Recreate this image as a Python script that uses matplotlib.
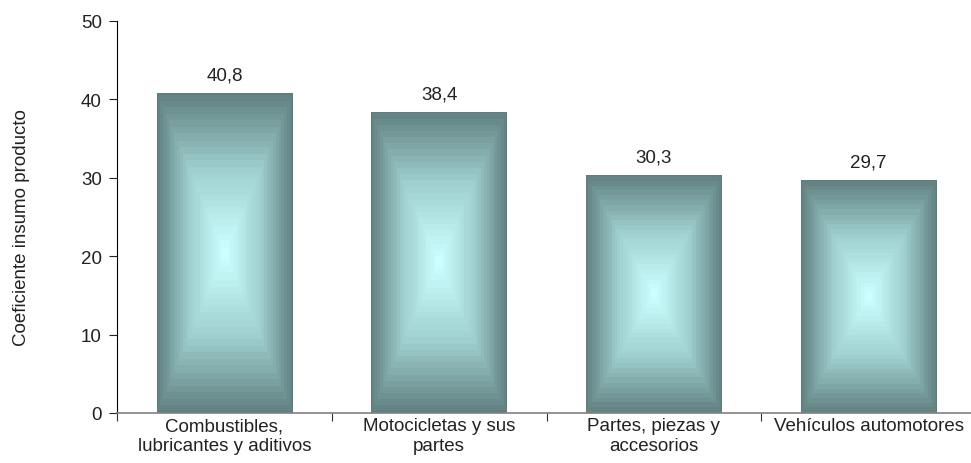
import numpy as np
import matplotlib
matplotlib.use("Agg")
import matplotlib.pyplot as plt
from matplotlib.colors import LinearSegmentedColormap

# datos
categorias = ["Combustibles,\nlubricantes y aditivos", "Motocicletas y sus\npartes",
              "Partes, piezas y\naccesorios", "Vehículos automotores"]
valores = [40.8, 38.4, 30.3, 29.7]
etiquetas = ["40,8", "38,4", "30,3", "29,7"]

plt.rcParams['font.family'] = ['Liberation Sans', 'DejaVu Sans']
fs = 13.5

fig = plt.figure(figsize=(9.71, 4.64), dpi=100)
# left 117px, bottom 414px, right ~976px, top 22px
ax = fig.add_axes([117/971, (464-414)/464, (976-117)/971, (414-22)/464])

x = np.arange(len(valores))
bars = ax.bar(x, valores, width=0.63, color="none", edgecolor="none")

# gradiente rectangular (centro claro, bordes oscuros) con bandas
cmap = LinearSegmentedColormap.from_list("rect", ["#ccffff", "#a0d0d0", "#5f7d7d"])
n = 200
u = np.linspace(-1, 1, n)
U, V = np.meshgrid(u, u)
t = np.maximum(np.abs(U), np.abs(V))
t = np.floor(t * 24) / 24
for b in bars:
    x0, w, h = b.get_x(), b.get_width(), b.get_height()
    im = ax.imshow(t, cmap=cmap, vmin=0, vmax=1, extent=[x0, x0 + w, 0, h],
                   aspect="auto", interpolation="nearest", zorder=2)
    im.set_clip_path(b)

for xi, v, lab in zip(x, valores, etiquetas):
    ax.annotate(lab, (xi, v), xytext=(0, 7), textcoords="offset points",
                ha="center", va="bottom", fontsize=fs, color="#222222")

ax.set_xlim(-0.5, len(valores) - 0.5)
ax.set_ylim(0, 50)
ax.set_yticks([0, 10, 20, 30, 40, 50])
ax.tick_params(axis="y", labelsize=fs, length=6, width=0.8, pad=5, colors="#222222")
ax.set_xticks(x)
ax.set_xticklabels(categorias, fontsize=fs, color="#222222", linespacing=1.25)
ax.tick_params(axis="x", length=0, pad=3)
ax.set_xticks(np.arange(-0.5, len(valores), 1), minor=True)
ax.tick_params(axis="x", which="minor", length=6, width=0.8, color="#333333")

for s in ["top", "right"]:
    ax.spines[s].set_visible(False)
ax.spines["left"].set_color("black")
ax.spines["left"].set_linewidth(0.8)
ax.spines["bottom"].set_color("#808080")
ax.spines["bottom"].set_linewidth(1.2)

fig.text(22/971, (464-228)/464, "Coeficiente insumo producto", rotation=90,
         ha="center", va="center", fontsize=fs, color="#222222")

fig.savefig("out.png", dpi=100)
